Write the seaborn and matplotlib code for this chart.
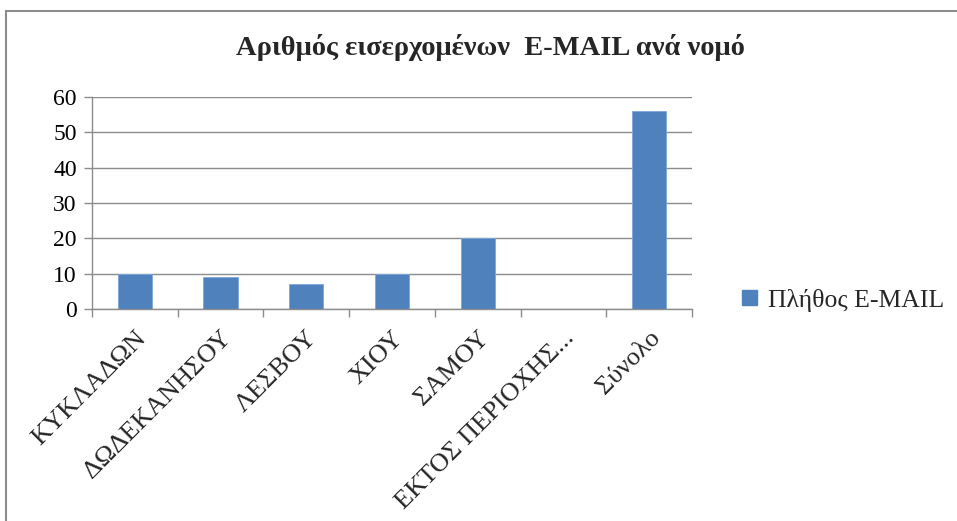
import matplotlib
matplotlib.use("Agg")
import matplotlib.pyplot as plt
import seaborn as sns
import pandas as pd
from matplotlib.patches import Rectangle, Patch

categories = ["ΚΥΚΛΑΔΩΝ", "ΔΩΔΕΚΑΝΗΣΟΥ", "ΛΕΣΒΟΥ", "ΧΙΟΥ", "ΣΑΜΟΥ", "ΕΚΤΟΣ ΠΕΡΙΟΧΗΣ...", "Σύνολο"]
values = [10, 9, 7, 10, 20, 0, 56]
series_name = "Πλήθος E-MAIL"
title = "Αριθμός εισερχομένων  E-MAIL ανά νομό"
yticks = [0, 10, 20, 30, 40, 50, 60]

sns.set_theme(style="white")
plt.rcParams["font.family"] = ["Liberation Serif", "DejaVu Serif"]

df = pd.DataFrame({"cat": categories, "val": values})

fig = plt.figure(figsize=(9.57, 5.21), dpi=100)
ax = fig.add_axes([0.0961, 0.407, 0.627, 0.407])

sns.barplot(data=df, x="cat", y="val", color="#4F81BD", width=0.4, ax=ax, saturation=1,
            edgecolor="#7DA7D9", linewidth=0.6)

ax.set_ylim(0, 60)
ax.set_yticks(yticks)
ax.set_xlim(-0.5, len(categories) - 0.5)
ax.yaxis.grid(True, color="#8c8c8c", linewidth=1.0)
ax.set_axisbelow(True)
ax.set_xlabel("")
ax.set_ylabel("")

for s in ["top", "right"]:
    ax.spines[s].set_visible(False)
for s in ["left", "bottom"]:
    ax.spines[s].set_color("#8c8c8c")
    ax.spines[s].set_linewidth(1.0)

ax.tick_params(axis="y", which="both", left=True, length=6, width=1.0, color="#8c8c8c",
               labelsize=17, pad=5, labelcolor="black")
ax.set_xticks(range(len(categories)))
ax.set_xticklabels(categories, rotation=45, ha="right", rotation_mode="anchor", fontsize=19)
ax.set_xticks([i - 0.5 for i in range(len(categories) + 1)], minor=True)
ax.tick_params(axis="x", which="major", bottom=False, pad=7)
ax.tick_params(axis="x", which="minor", bottom=True, length=6, width=1.0, color="#8c8c8c")

fig.text(0.512, 0.908, title, ha="center", va="center", fontsize=20.5, fontweight="bold")

handle = Patch(facecolor="#4F81BD", edgecolor="#4F81BD")
fig.legend([handle], [series_name], loc="center left", bbox_to_anchor=(0.757, 0.424),
           frameon=False, fontsize=18.5, handlelength=0.55, handleheight=0.55, handletextpad=0.45,
           borderpad=0.2)

fig.patches.append(Rectangle((6 / 957, -0.01), 1.2, 1 - 11 / 521 + 0.01, transform=fig.transFigure,
                             fill=False, edgecolor="#8c8c8c", linewidth=1.5))

fig.savefig("out.png", dpi=100)
